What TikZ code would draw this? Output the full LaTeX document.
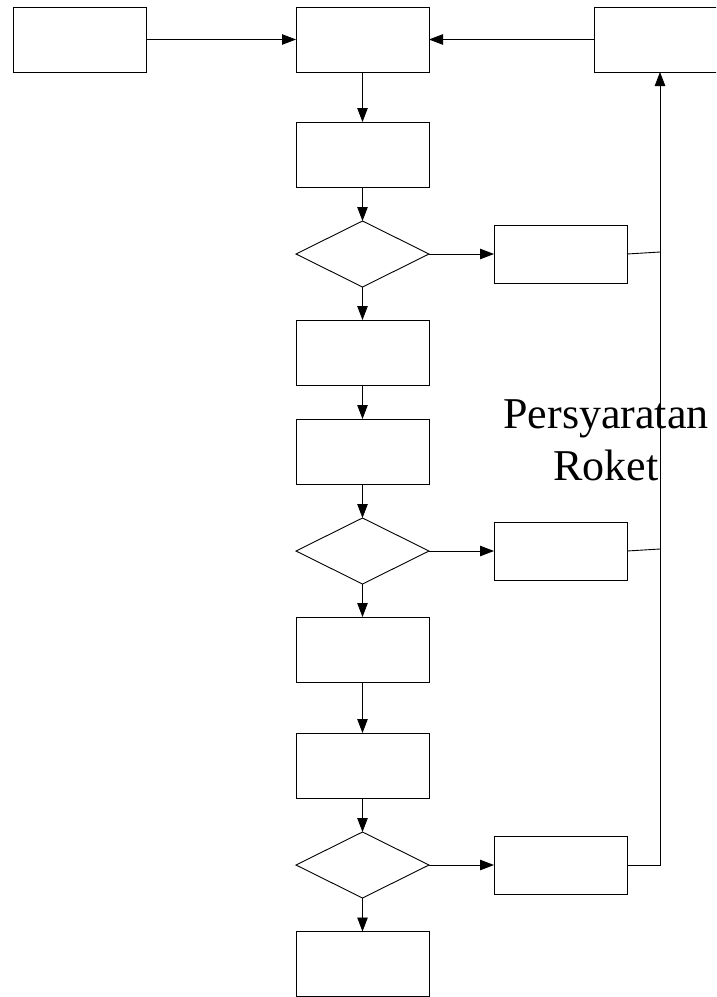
\documentclass[tikz,border=0pt]{standalone}
\usepackage{fontspec}
\setmainfont{Liberation Serif}
\usetikzlibrary{arrows.meta,shapes.geometric}
\begin{document}
\begin{tikzpicture}[x=1pt,y=-1pt,
  every node/.style={inner sep=0pt,outer sep=0pt},
  box/.style={draw,line width=0.9pt,minimum width=133pt,minimum height=65pt},
  sidebox/.style={draw,line width=0.9pt,minimum width=133pt,minimum height=58pt},
  decision/.style={draw,diamond,aspect=2,line width=0.9pt,minimum width=133pt,minimum height=66pt,inner sep=0pt},
  flow/.style={line width=0.9pt,-{Triangle[length=14pt,width=10.5pt]}},
  link/.style={line width=0.9pt}]
\useasboundingbox (0,0) rectangle (716,997);
\clip (0,0) rectangle (716,997);
% top row
\node[box] (src) at (79.5,39.5) {};
\node[box] (b1) at (362.5,39.5) {};
\node[box,minimum width=140pt] (tr) at (664,39.5) {};
% main column
\node[box] (b2) at (362.5,154.5) {};
\node[decision] (d1) at (362.5,254) {};
\node[box] (b3) at (362.5,352.5) {};
\node[box] (b4) at (362.5,451.5) {};
\node[decision] (d2) at (362.5,551) {};
\node[box] (b5) at (362.5,649.5) {};
\node[box] (b6) at (362.5,765.5) {};
\node[decision] (d3) at (362.5,865) {};
\node[box] (b7) at (362.5,964) {};
% side boxes
\node[sidebox] (s1) at (560.5,254) {};
\node[sidebox] (s2) at (560.5,551) {};
\node[sidebox] (s3) at (560.5,865) {};
% label
\node[font=\fontsize{44}{52}\selectfont,align=center,anchor=base] (lbl) at (606,480) {Persyaratan\\Roket};
% return line
\coordinate (j1) at (660,252);
\coordinate (j2) at (660,549);
\coordinate (j3) at (660,865);
\coordinate (top) at (660,72);
% connectors
\draw[flow] (src) -- (b1);
\draw[flow] (tr.west) -- (b1.east);
\draw[flow] (b1) -- (b2);
\draw[flow] (b2) -- (d1);
\draw[flow] (d1) -- (b3);
\draw[flow] (b3) -- (b4);
\draw[flow] (b4) -- (d2);
\draw[flow] (d2) -- (b5);
\draw[flow] (b5) -- (b6);
\draw[flow] (b6) -- (d3);
\draw[flow] (d3) -- (b7);
\draw[flow] (d1) -- (s1);
\draw[flow] (d2) -- (s2);
\draw[flow] (d3) -- (s3);
\draw[link] (s1.east) -- (j1);
\draw[link] (s2.east) -- (j2);
\draw[flow] (s3.east) -- (j3) -- (top);
\end{tikzpicture}
\end{document}
